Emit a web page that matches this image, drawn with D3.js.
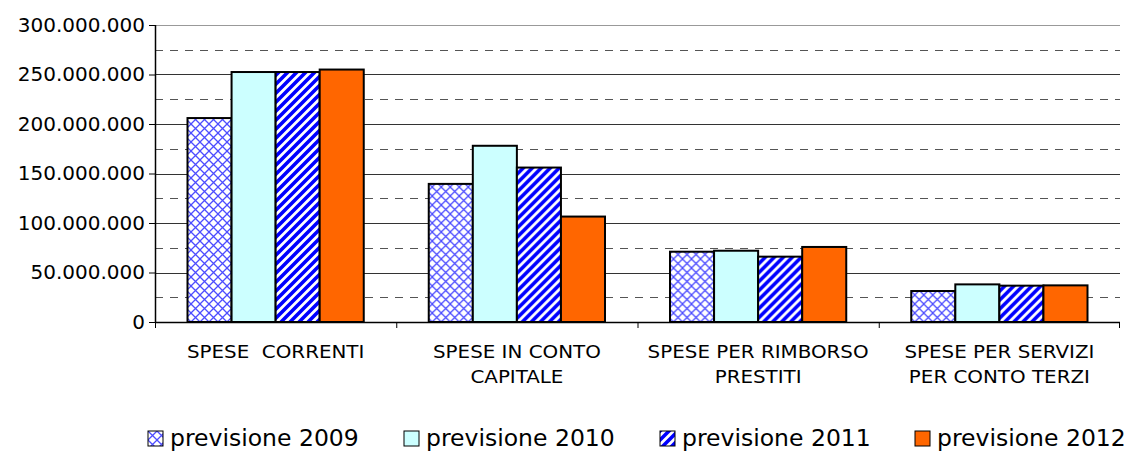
<!DOCTYPE html>
<html>
<head>
<meta charset="utf-8">
<script src="https://cdn.jsdelivr.net/npm/d3@7"></script>
<style>
  body { margin: 0; background: #fff; }
  svg { display: block; font-family: "DejaVu Sans", sans-serif; }
</style>
</head>
<body>
<svg id="chart"></svg>
<script>
// categories and series
const categories = [
  ['SPESE  CORRENTI'],
  ['SPESE IN CONTO', 'CAPITALE'],
  ['SPESE PER RIMBORSO', 'PRESTITI'],
  ['SPESE PER SERVIZI', 'PER CONTO TERZI']
];
const seriesNames = ['previsione 2009', 'previsione 2010', 'previsione 2011', 'previsione 2012'];
const prev2009 = [206000000, 139500000, 71000000, 31300000];
const prev2010 = [252500000, 178000000, 72000000, 38000000];
const prev2011 = [252500000, 156000000, 66000000, 36700000];
const prev2012 = [255000000, 106500000, 75800000, 37000000];
const yTicks = [0, 50000000, 100000000, 150000000, 200000000, 250000000, 300000000];
const minorTicks = [25000000, 75000000, 125000000, 175000000, 225000000, 275000000];

const series = [prev2009, prev2010, prev2011, prev2012];

const W = 1129, H = 452;
const margin = {top: 25, right: 9, bottom: 130, left: 155};
const width = W - margin.left - margin.right;
const height = H - margin.top - margin.bottom;

const svg = d3.select('#chart').attr('width', W).attr('height', H);

// patterns
const defs = svg.append('defs');
const cross = defs.append('pattern')
  .attr('id', 'pat-cross')
  .attr('patternUnits', 'userSpaceOnUse')
  .attr('width', 9).attr('height', 9);
cross.append('rect').attr('width', 9).attr('height', 9).attr('fill', '#fff');
cross.append('path').attr('d', 'M0,0L9,9M9,0L0,9')
  .attr('stroke', '#4d4dff').attr('stroke-width', 1.3);

const stripe = defs.append('pattern')
  .attr('id', 'pat-stripe')
  .attr('patternUnits', 'userSpaceOnUse')
  .attr('width', 9).attr('height', 9);
stripe.append('rect').attr('width', 9).attr('height', 9).attr('fill', '#fff');
stripe.append('path').attr('d', 'M-2,2L2,-2M0,9L9,0M7,11L11,7')
  .attr('stroke', '#0000ff').attr('stroke-width', 3.6);

const fills = ['url(#pat-cross)', '#ccffff', 'url(#pat-stripe)', '#ff6600'];

const g = svg.append('g').attr('transform', `translate(${margin.left},${margin.top})`);

// scales
const x0 = d3.scaleBand().domain(d3.range(categories.length)).range([0, width]).paddingInner(0).paddingOuter(0);
const x1 = d3.scaleBand().domain(d3.range(series.length)).range([32.5, x0.bandwidth() - 32.5]).padding(0);
const y = d3.scaleLinear().domain([0, 300000000]).range([height, 0]);

// gridlines
g.selectAll('.minor').data(minorTicks).join('line')
  .attr('x1', 0).attr('x2', width)
  .attr('y1', d => Math.round(y(d)) + 0.5).attr('y2', d => Math.round(y(d)) + 0.5)
  .attr('stroke', '#555').attr('stroke-dasharray', '8,7');
g.selectAll('.major').data(yTicks.slice(1)).join('line')
  .attr('x1', 0).attr('x2', width)
  .attr('y1', d => Math.round(y(d)) + 0.5).attr('y2', d => Math.round(y(d)) + 0.5)
  .attr('stroke', d => d === 300000000 ? '#999' : '#333').attr('stroke-width', 1);

// bars
const groups = g.selectAll('.grp').data(categories).join('g')
  .attr('transform', (d, i) => `translate(${x0(i)},0)`);
groups.selectAll('rect').data((d, i) => series.map((s, k) => ({k, v: s[i]}))).join('rect')
  .attr('x', d => x1(d.k))
  .attr('y', d => y(d.v))
  .attr('width', x1.bandwidth())
  .attr('height', d => height - y(d.v))
  .attr('fill', d => fills[d.k])
  .attr('stroke', '#000').attr('stroke-width', 2);

// y axis
const fmt = v => d3.format(',')(v).replace(/,/g, '.');
const yAxis = d3.axisLeft(y).tickValues(yTicks).tickFormat(fmt).tickSize(6).tickPadding(4);
const ya = g.append('g').call(yAxis);
ya.select('.domain').attr('stroke', '#000').attr('stroke-width', 1.5).attr('d', `M0.5,0V${height}`);
ya.selectAll('.tick line').attr('stroke', '#000');
ya.selectAll('text').attr('font-size', 20).attr('fill', '#000').attr('font-family', '"DejaVu Sans", sans-serif');

// x axis baseline and ticks
g.append('line').attr('x1', 0).attr('x2', width).attr('y1', height + 0.5).attr('y2', height + 0.5)
  .attr('stroke', '#000').attr('stroke-width', 1.5);
g.selectAll('.xtick').data(d3.range(categories.length + 1)).join('line')
  .attr('x1', d => d < categories.length ? x0(d) + 0.5 : width - 0.5)
  .attr('x2', d => d < categories.length ? x0(d) + 0.5 : width - 0.5)
  .attr('y1', height).attr('y2', height + 6)
  .attr('stroke', '#000');

// category labels (stretched horizontally like the original)
const labels = g.selectAll('.xlabel').data(categories).join('text')
  .attr('text-anchor', 'middle')
  .attr('font-size', 17)
  .attr('font-family', '"DejaVu Sans Condensed", "DejaVu Sans", sans-serif')
  .attr('xml:space', 'preserve')
  .style('white-space', 'pre')
  .attr('transform', (d, i) => `translate(${x0(i) + x0.bandwidth() / 2},0) scale(1.3,1)`);
labels.selectAll('tspan').data(d => d).join('tspan')
  .attr('x', 0)
  .attr('y', (d, j) => height + 36 + j * 25)
  .text(d => d);

// legend
const legendX = [148, 404, 660, 915];
const leg = svg.append('g').selectAll('g').data(seriesNames).join('g')
  .attr('transform', (d, i) => `translate(${legendX[i]},431)`);
leg.append('rect').attr('width', 15).attr('height', 15)
  .attr('fill', (d, i) => fills[i]).attr('stroke', '#000').attr('stroke-width', 1);
leg.append('text').attr('x', 22).attr('y', 15)
  .attr('font-size', 23.5).attr('fill', '#000')
  .text(d => d);
</script>
</body>
</html>
